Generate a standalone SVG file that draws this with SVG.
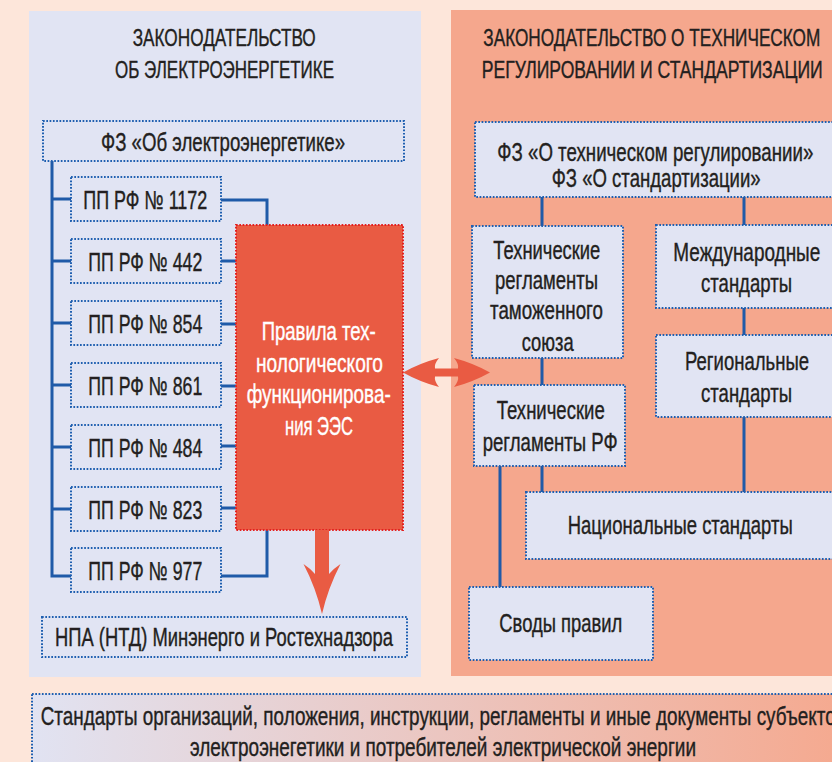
<svg xmlns="http://www.w3.org/2000/svg" width="832" height="762" viewBox="0 0 832 762">
<style>
text{font-family:"Liberation Sans",Arial,sans-serif;fill:#231f20;stroke:#231f20;stroke-width:0.4;font-size:26px}
.t{font-size:24px}
.w{fill:#ffffff;stroke:#ffffff}
.box{fill:#e1e4f3;stroke:#1f5fb0;stroke-width:2;stroke-dasharray:1.7 1.6}
.red{fill:#e95b43;stroke:#e4201f;stroke-width:2;stroke-dasharray:1.7 1.6}
.con path{fill:none;stroke:#1f5aa8;stroke-width:3}
.arr{fill:#e95b43}
</style>
<defs>
<linearGradient id="g" gradientUnits="userSpaceOnUse" x1="32" y1="0" x2="845" y2="0">
<stop offset="0" stop-color="#e1e3f2"/>
<stop offset="1" stop-color="#f5a98f"/>
</linearGradient>
</defs>
<rect width="832" height="762" fill="#fde6da"/>
<g id="panel-left">
<rect x="29" y="11" width="392" height="666" fill="#e1e4f3"/>
<text class="t" x="132.7" y="45.7" textLength="183" lengthAdjust="spacingAndGlyphs">ЗАКОНОДАТЕЛЬСТВО</text>
<text class="t" x="115" y="77.7" textLength="219" lengthAdjust="spacingAndGlyphs">ОБ ЭЛЕКТРОЭНЕРГЕТИКЕ</text>
</g>
<g id="panel-right">
<rect x="451" y="10" width="400" height="666" fill="#f5a78d"/>
<text class="t" x="483.3" y="45.7" textLength="337" lengthAdjust="spacingAndGlyphs">ЗАКОНОДАТЕЛЬСТВО О ТЕХНИЧЕСКОМ</text>
<text class="t" x="481.7" y="77.7" textLength="341" lengthAdjust="spacingAndGlyphs">РЕГУЛИРОВАНИИ И СТАНДАРТИЗАЦИИ</text>
</g>
<g id="bottom">
<rect x="32" y="694" width="830" height="90" fill="url(#g)" stroke="#1f5fb0" stroke-width="2" stroke-dasharray="1.7 1.6"/>
<text x="40.7" y="725" textLength="805" lengthAdjust="spacingAndGlyphs">Стандарты организаций, положения, инструкции, регламенты и иные документы субъектов</text>
<text x="190" y="756" textLength="506" lengthAdjust="spacingAndGlyphs">электроэнегетики и потребителей электрической энергии</text>
</g>
<g class="con" id="connectors">
<path d="M52,161V576H71"/>
<path d="M52,199H71M52,261H71M52,323H71M52,385H71M52,447H71M52,509H71"/>
<path d="M221,200H267V225"/>
<path d="M221,261H236M221,324H236M221,386H236M221,446H236M221,508H236"/>
<path d="M221,576H267V530"/>
<path d="M542,197V226M744,197V225M542,358V385M744,308V335M744,417V492M500,466V587M542,466V492"/>
</g>
<g id="fz-electro"><rect class="box" x="43" y="121" width="361" height="40"/>
<text x="101" y="151" textLength="244" lengthAdjust="spacingAndGlyphs">ФЗ «Об электроэнергетике»</text></g>
<g id="pp1172"><rect class="box" x="71" y="177" width="150" height="44"/>
<text x="83.3" y="209" textLength="124" lengthAdjust="spacingAndGlyphs">ПП РФ № 1172</text></g>
<g id="pp442"><rect class="box" x="71" y="239" width="150" height="44"/>
<text x="88.3" y="271" textLength="114" lengthAdjust="spacingAndGlyphs">ПП РФ № 442</text></g>
<g id="pp854"><rect class="box" x="71" y="301" width="150" height="44"/>
<text x="88.3" y="332.5" textLength="114" lengthAdjust="spacingAndGlyphs">ПП РФ № 854</text></g>
<g id="pp861"><rect class="box" x="71" y="363" width="150" height="44"/>
<text x="88.3" y="394.5" textLength="114" lengthAdjust="spacingAndGlyphs">ПП РФ № 861</text></g>
<g id="pp484"><rect class="box" x="71" y="425" width="150" height="44"/>
<text x="88.3" y="456.5" textLength="114" lengthAdjust="spacingAndGlyphs">ПП РФ № 484</text></g>
<g id="pp823"><rect class="box" x="71" y="487" width="150" height="44"/>
<text x="88.3" y="518.5" textLength="114" lengthAdjust="spacingAndGlyphs">ПП РФ № 823</text></g>
<g id="pp977"><rect class="box" x="71" y="548" width="150" height="44"/>
<text x="88.3" y="580" textLength="114" lengthAdjust="spacingAndGlyphs">ПП РФ № 977</text></g>
<g id="rules"><rect class="red" x="236" y="225" width="167" height="305"/>
<text class="w" x="261.7" y="340" textLength="114" lengthAdjust="spacingAndGlyphs">Правила тех-</text>
<text class="w" x="256" y="371.5" textLength="127" lengthAdjust="spacingAndGlyphs">нологического</text>
<text class="w" x="246.7" y="403" textLength="144" lengthAdjust="spacingAndGlyphs">функционирова-</text>
<text class="w" x="285" y="435" textLength="68" lengthAdjust="spacingAndGlyphs">ния ЭЭС</text></g>
<g id="npa"><rect class="box" x="42" y="617" width="365" height="40"/>
<text x="55" y="645.7" textLength="338" lengthAdjust="spacingAndGlyphs">НПА (НТД) Минэнерго и Ростехнадзора</text></g>
<g id="fz-tech"><rect class="box" x="475" y="122" width="360" height="75"/>
<text x="497.3" y="160.7" textLength="316" lengthAdjust="spacingAndGlyphs">ФЗ «О техническом регулировании»</text>
<text x="551.7" y="187" textLength="209" lengthAdjust="spacingAndGlyphs">ФЗ «О стандартизации»</text></g>
<g id="tr-ts"><rect class="box" x="472" y="226" width="151" height="132"/>
<text x="493.3" y="259" textLength="107" lengthAdjust="spacingAndGlyphs">Технические</text>
<text x="495" y="288.5" textLength="103" lengthAdjust="spacingAndGlyphs">регламенты</text>
<text x="490" y="319" textLength="113" lengthAdjust="spacingAndGlyphs">таможенного</text>
<text x="521.7" y="350.5" textLength="52" lengthAdjust="spacingAndGlyphs">союза</text></g>
<g id="tr-rf"><rect class="box" x="474" y="385" width="151" height="81"/>
<text x="496.7" y="419.3" textLength="108" lengthAdjust="spacingAndGlyphs">Технические</text>
<text x="482.7" y="450.7" textLength="135" lengthAdjust="spacingAndGlyphs">регламенты РФ</text></g>
<g id="intl"><rect class="box" x="656" y="225" width="180" height="83"/>
<text x="673.3" y="261" textLength="147" lengthAdjust="spacingAndGlyphs">Международные</text>
<text x="701" y="292.3" textLength="91" lengthAdjust="spacingAndGlyphs">стандарты</text></g>
<g id="regional"><rect class="box" x="656" y="335" width="180" height="82"/>
<text x="685" y="370" textLength="124" lengthAdjust="spacingAndGlyphs">Региональные</text>
<text x="701" y="401.7" textLength="91" lengthAdjust="spacingAndGlyphs">стандарты</text></g>
<g id="national"><rect class="box" x="526" y="492" width="310" height="67"/>
<text x="567.7" y="534" textLength="225" lengthAdjust="spacingAndGlyphs">Национальные стандарты</text></g>
<g id="codes"><rect class="box" x="469" y="587" width="184" height="73"/>
<text x="499.3" y="631.7" textLength="123" lengthAdjust="spacingAndGlyphs">Своды правил</text></g>
<g id="arrows">
<path class="arr" d="M315,530H329V574Q333,569 340.5,564Q328,588 322,614Q316,588 303.5,564Q311,569 315,574Z"/>
<path class="arr" d="M403,372.5Q420,363 439,358Q434,364 435,368.5H458Q459,364 454,358Q473,363 490,372.5Q473,382 454,387Q459,381 458,376.5H435Q434,381 439,387Q420,382 403,372.5Z"/>
</g>
</svg>
